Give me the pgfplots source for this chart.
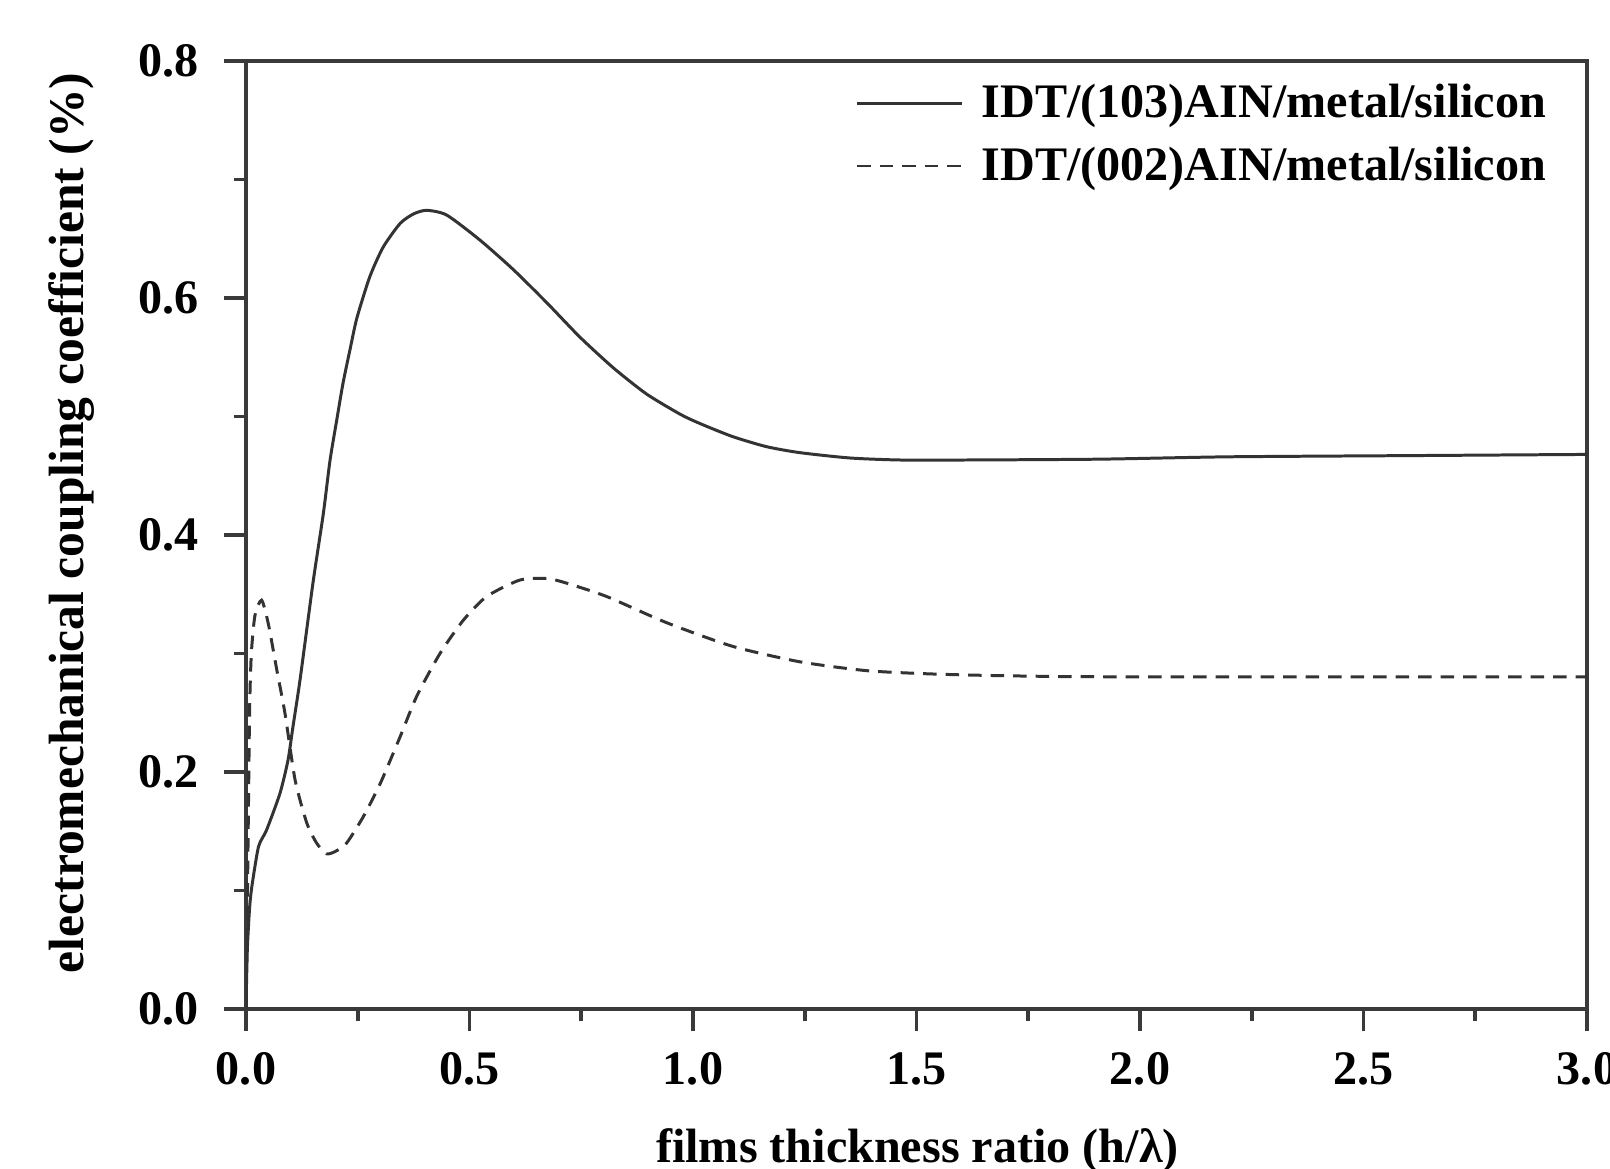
\documentclass[border=0pt]{standalone}
\usepackage{fontspec}
\setmainfont{Liberation Serif}
\usepackage{pgfplots}
\pgfplotsset{compat=1.18}
\definecolor{curve}{HTML}{333333}
\definecolor{axline}{HTML}{3A3A3A}
\newcommand{\chartfont}{\fontsize{13.7}{16}\selectfont\bfseries}
\newcommand{\ylabfont}{\fontsize{14.1}{16}\selectfont\bfseries}
\begin{document}
\begin{tikzpicture}
\path[use as bounding box] (-24.6mm,-16mm) rectangle (136.4mm,100.9mm);
\begin{axis}[
  scale only axis,
  width=134.1mm, height=94.8mm,
  xmin=0, xmax=3, ymin=0, ymax=0.8,
  xtick={0,0.5,1,1.5,2,2.5,3},
  ytick={0,0.2,0.4,0.6,0.8},
  minor x tick num=1, minor y tick num=1,
  tick align=outside, tickpos=left,
  major tick length=2.2mm, minor tick length=1.2mm,
  axis line style={axline, line width=1.3pt},
  every tick/.style={axline, line width=1.1pt},
  /pgf/number format/assume math mode=true,
  /pgf/number format/.cd, fixed, fixed zerofill, precision=1, /pgfplots/.cd,
  xticklabel style={font=\chartfont, anchor=center, inner sep=0pt, yshift=-3.75mm},
  yticklabel style={font=\chartfont, anchor=east, inner sep=0pt, xshift=-2.5mm},
  xlabel={films thickness ratio (h/λ)},
  ylabel={electromechanical coupling coefficient (\%)},
  every axis x label/.style={at={(axis description cs:0.5007,-0.149)}, anchor=center, font=\chartfont},
  every axis y label/.style={at={(axis description cs:-0.1298,0.5127)}, anchor=center, rotate=90, font=\ylabfont},
  legend cell align=left,
  legend image code/.code={\draw[#1] (0mm,0mm) -- (10.5mm,0mm);},
  legend style={draw=none, fill=none, font=\chartfont,
    at={(axis description cs:0.4541,0.984)}, anchor=north west,
    inner sep=0pt, row sep=1.0mm,
    /tikz/every odd column/.append style={column sep=1.1mm}},
]
\addplot[curve, line width=0.85pt, smooth, tension=0.4] coordinates {
(0,0) (0.003,0.05) (0.008,0.085) (0.013,0.103) (0.028,0.137) (0.046,0.151)
(0.076,0.182) (0.094,0.21) (0.105,0.238) (0.121,0.278) (0.15,0.36)
(0.173,0.418) (0.188,0.463) (0.203,0.497) (0.217,0.528) (0.233,0.557)
(0.248,0.583) (0.277,0.618) (0.307,0.643) (0.345,0.663) (0.375,0.671)
(0.404,0.674) (0.449,0.670) (0.523,0.649) (0.598,0.624) (0.673,0.596)
(0.747,0.567) (0.822,0.541) (0.896,0.519) (0.971,0.502) (1.016,0.494)
(1.089,0.483) (1.165,0.4745) (1.239,0.4695) (1.351,0.465) (1.463,0.4633)
(1.612,0.4633) (1.91,0.464) (2.2,0.466) (2.6,0.467) (3.0,0.468)
};
\addlegendentry{IDT/(103)AIN/metal/silicon}
\addplot[curve, line width=0.85pt, dash pattern=on 1.35mm off 0.9mm, smooth, tension=0.4] coordinates {
(0,0) (0.004,0.12) (0.008,0.25) (0.012,0.30) (0.02,0.332) (0.035,0.345)
(0.05,0.325) (0.069,0.286) (0.087,0.25) (0.11,0.193) (0.136,0.157)
(0.158,0.14) (0.18,0.131) (0.2,0.133) (0.225,0.14) (0.262,0.162)
(0.3,0.19) (0.344,0.229) (0.382,0.264) (0.434,0.300) (0.486,0.328)
(0.538,0.348) (0.613,0.362) (0.68,0.363) (0.754,0.355) (0.814,0.347)
(0.941,0.326) (1.089,0.306) (1.239,0.293) (1.389,0.2855) (1.537,0.2827)
(1.687,0.2813) (1.895,0.2804) (2.5,0.2803) (3.0,0.2803)
};
\addlegendentry{IDT/(002)AIN/metal/silicon}
\end{axis}
\end{tikzpicture}
\end{document}
